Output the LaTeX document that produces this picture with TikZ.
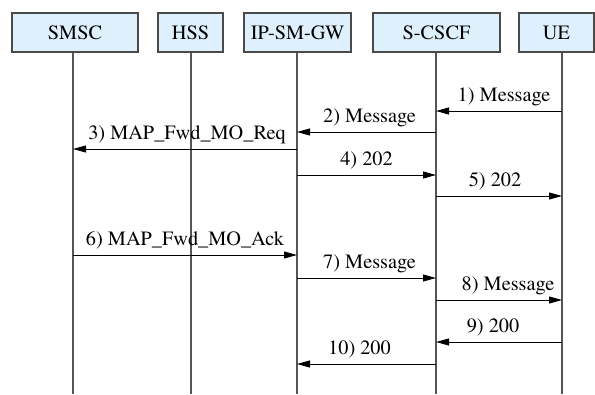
\documentclass[tikz,border=0pt]{standalone}
\usepackage{fontspec}
\IfFontExistsTF{TeX Gyre Termes}{\setmainfont{TeX Gyre Termes}}{\setmainfont{Liberation Serif}}
\usetikzlibrary{arrows.meta}
\definecolor{boxfill}{HTML}{DDF0FB}
\definecolor{boxline}{HTML}{4A4A4A}
\definecolor{lifeline}{HTML}{555555}
\tikzset{
  entity/.style={draw=boxline, line width=1.2pt, fill=boxfill, minimum height=39pt,
    inner sep=0pt, font=\fontsize{20.3}{24}\selectfont, anchor=center},
  life/.style={draw=lifeline, line width=1.2pt},
  msg/.style={draw=black, line width=0.9pt, -{Triangle[length=13pt,width=7pt]}},
  lbl/.style={font=\fontsize{20.3}{24}\selectfont, anchor=base, yshift=10pt, inner sep=0pt}
}
\begin{document}
\begin{tikzpicture}[x=1pt, y=-1pt]
\useasboundingbox (0,0) rectangle (595,394);

% participant boxes
\node[entity, minimum width=126pt] (smsc)  at (75,32.5)    {SMSC};
\node[entity, minimum width=65pt]  (hss)   at (190.5,32.5) {HSS};
\node[entity, minimum width=107pt] (ipsm)  at (297.5,32.5) {IP-SM-GW};
\node[entity, minimum width=127pt] (scscf) at (436.5,32.5) {S-CSCF};
\node[entity, minimum width=75pt]  (ue)    at (556.5,32.5) {UE};

% lifeline feet
\coordinate (smscL)  at (73,394);
\coordinate (hssL)   at (191,394);
\coordinate (ipsmL)  at (297,394);
\coordinate (scscfL) at (436,394);
\coordinate (ueL)    at (562,394);

\draw[life] (smscL |- smsc.south)   -- (smscL);
\draw[life] (hssL |- hss.south)     -- (hssL);
\draw[life] (ipsmL |- ipsm.south)   -- (ipsmL);
\draw[life] (scscfL |- scscf.south) -- (scscfL);
\draw[life] (ueL |- ue.south)       -- (ueL);

% messages
\draw[msg] (ueL |- 0,111)    -- node[lbl, xshift=5pt] {1) Message} (scscfL |- 0,111);
\draw[msg] (scscfL |- 0,132) -- node[lbl, xshift=3pt] {2) Message} (ipsmL |- 0,132);
\draw[msg] (ipsmL |- 0,149)  -- node[lbl, xshift=2pt] {3) MAP\_Fwd\_MO\_Req} (smscL |- 0,149);
\draw[msg] (ipsmL |- 0,175)  -- node[lbl] {4) 202} (scscfL |- 0,175);
\draw[msg] (scscfL |- 0,196) -- node[lbl, xshift=-4pt] {5) 202} (ueL |- 0,196);
\draw[msg] (smscL |- 0,255)  -- node[lbl] {6) MAP\_Fwd\_MO\_Ack} (ipsmL |- 0,255);
\draw[msg] (ipsmL |- 0,278)  -- node[lbl, xshift=3pt] {7) Message} (scscfL |- 0,278);
\draw[msg] (scscfL |- 0,300) -- node[lbl, xshift=9pt] {8) Message} (ueL |- 0,300);
\draw[msg] (ueL |- 0,342)    -- node[lbl, xshift=-6pt] {9) 200} (scscfL |- 0,342);
\draw[msg] (scscfL |- 0,364) -- node[lbl, xshift=-7pt] {10) 200} (ipsmL |- 0,364);
\end{tikzpicture}
\end{document}
